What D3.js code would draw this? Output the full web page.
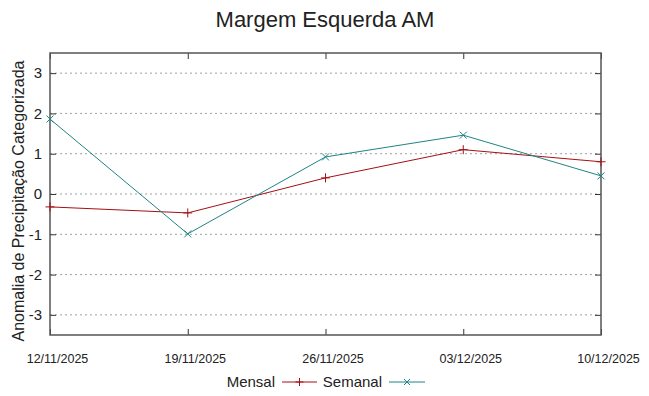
<!DOCTYPE html>
<html>
<head>
<meta charset="utf-8">
<script src="https://cdn.jsdelivr.net/npm/d3@7"></script>
<style>
  body { margin: 0; background: #fff; }
  text { font-family: "Liberation Sans", Arial, sans-serif; fill: #222; }
</style>
</head>
<body>
<svg width="649" height="396"></svg>
<script>
const svg = d3.select('svg');

const width = +svg.attr('width');
const height = +svg.attr('height');
const margin = { top: 53, right: 48, bottom: 61, left: 50 };
const innerWidth = width - margin.left - margin.right;
const innerHeight = height - margin.top - margin.bottom;

const titleText = 'Margem Esquerda AM';
const yAxisLabel = 'Anomalia de Precipitação Categorizada';

// data
const dates = ['12/11/2025', '19/11/2025', '26/11/2025', '03/12/2025', '10/12/2025'];
const mensal = [-0.32, -0.47, 0.40, 1.10, 0.80];
const semanal = [1.86, -0.99, 0.92, 1.46, 0.45];
const yTicks = [-3, -2, -1, 0, 1, 2, 3];

const x = d3.scalePoint()
    .domain(dates)
    .range([0, innerWidth]);

const y = d3.scaleLinear()
    .domain([-3.5, 3.5])
    .range([innerHeight, 0]);

const g = svg.append('g')
    .attr('transform', `translate(${margin.left},${margin.top})`);

// dotted grid
g.selectAll('.grid')
    .data(yTicks)
    .enter()
    .append('line')
    .attr('x1', 0)
    .attr('x2', innerWidth)
    .attr('y1', d => y(d))
    .attr('y2', d => y(d))
    .attr('stroke', '#a0a0a0')
    .attr('stroke-width', 1)
    .attr('stroke-dasharray', '2,3');

// ticks point inward on all four sides
const y_left = d3.axisLeft(y).tickValues(yTicks).tickSize(-6).tickPadding(8).tickFormat(d => String(d));
const y_right = d3.axisRight(y).tickValues(yTicks).tickSize(-6).tickFormat('');
const x_bottom = d3.axisBottom(x).tickSize(-6).tickPadding(19);
const x_top = d3.axisTop(x).tickSize(-6).tickFormat('');

const yl = g.append('g').call(y_left);
g.append('g').attr('transform', `translate(${innerWidth},0)`).call(y_right);
const xb = g.append('g').attr('transform', `translate(0,${innerHeight})`).call(x_bottom);
g.append('g').call(x_top);

g.selectAll('.domain').remove();
g.selectAll('.tick line').attr('stroke', '#333').attr('stroke-width', 1);
yl.selectAll('text').attr('font-size', 15).attr('fill', '#222');
xb.selectAll('text')
    .attr('font-family', '"Liberation Sans Narrow", "Liberation Sans", sans-serif')
    .attr('font-size', 12.5)
    .attr('dx', 7)
    .attr('fill', '#222');

// frame
g.append('rect')
    .attr('width', innerWidth)
    .attr('height', innerHeight)
    .attr('fill', 'none')
    .attr('stroke', '#555')
    .attr('stroke-width', 1.5);

const series = [
    { name: 'Mensal', values: mensal, color: '#a50f15', marker: 'plus' },
    { name: 'Semanal', values: semanal, color: '#1e8585', marker: 'cross' }
];

const line_creator = d3.line()
    .x((d, i) => x(dates[i]))
    .y(d => y(d));

function markerPath(type, cx, cy, r) {
    if (type === 'plus') {
        return `M${cx - r},${cy}H${cx + r}M${cx},${cy - r}V${cy + r}`;
    }
    return `M${cx - r},${cy - r}L${cx + r},${cy + r}M${cx - r},${cy + r}L${cx + r},${cy - r}`;
}

series.forEach(s => {
    g.append('path')
        .attr('d', line_creator(s.values))
        .attr('fill', 'none')
        .attr('stroke', s.color)
        .attr('stroke-width', 1);
    g.selectAll(null)
        .data(s.values)
        .enter()
        .append('path')
        .attr('d', (d, i) => markerPath(s.marker, x(dates[i]), y(d), s.marker === 'plus' ? 4.5 : 3.5))
        .attr('stroke', s.color)
        .attr('stroke-width', 1)
        .attr('fill', 'none');
});

// title
svg.append('text')
    .attr('x', 325)
    .attr('y', 27)
    .attr('text-anchor', 'middle')
    .attr('font-size', 22)
    .text(titleText);

// y axis label
svg.append('text')
    .attr('transform', 'rotate(-90)')
    .attr('x', -201)
    .attr('y', 24)
    .attr('text-anchor', 'middle')
    .attr('font-size', 16)
    .text(yAxisLabel);

// legend
const legend = [
    { name: 'Mensal', color: series[0].color, marker: 'plus', textEnd: 275, x1: 282, x2: 317 },
    { name: 'Semanal', color: series[1].color, marker: 'cross', textEnd: 382, x1: 389, x2: 425 }
];
const ly = 382;
legend.forEach(l => {
    svg.append('text')
        .attr('x', l.textEnd)
        .attr('y', ly + 5)
        .attr('text-anchor', 'end')
        .attr('font-size', 15)
        .text(l.name);
    svg.append('line')
        .attr('x1', l.x1).attr('x2', l.x2)
        .attr('y1', ly).attr('y2', ly)
        .attr('stroke', l.color);
    svg.append('path')
        .attr('d', markerPath(l.marker, (l.x1 + l.x2) / 2, ly, l.marker === 'plus' ? 4 : 3))
        .attr('stroke', l.color)
        .attr('fill', 'none');
});
</script>
</body>
</html>
